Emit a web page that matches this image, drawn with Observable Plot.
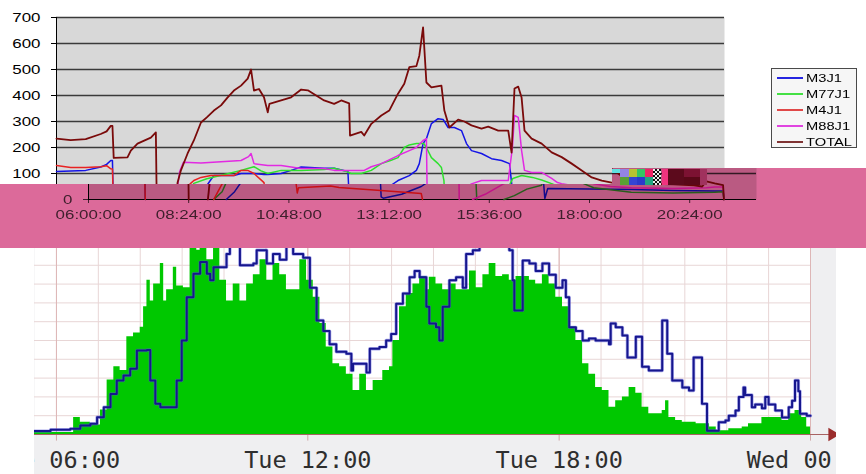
<!DOCTYPE html>
<html><head><meta charset="utf-8">
<script src="https://cdn.jsdelivr.net/npm/d3@7"></script>
<script src="https://cdn.jsdelivr.net/npm/@observablehq/plot@0.6"></script>
<style>
html,body{margin:0;padding:0;background:#fff;}
#stage{position:relative;width:866px;height:474px;overflow:hidden;font-family:"Liberation Sans",Arial,sans-serif;}
.abs{position:absolute;}
</style></head><body>
<div id="stage">
  <div id="bottom" class="abs" style="left:34px;top:200px;width:802px;height:274px;overflow:hidden;"></div>
  <div id="top" class="abs" style="left:0;top:0;width:730px;height:240px;"></div>
  <div id="legend" class="abs" style="left:771px;top:68px;width:84px;height:78px;border:1px solid #4a4a4a;background:#f6f6f6;"></div>
  <div id="band" class="abs" style="left:0;top:168px;width:866px;height:80px;background:#DC6A9A;overflow:hidden;isolation:isolate;clip-path:polygon(0 16px,612px 16px,612px 0,866px 0,866px 80px,0 80px);">
    <div id="bandCopy" class="abs" style="left:32px;top:-168px;width:730px;height:240px;mix-blend-mode:multiply;"></div>
    <div id="glitch"></div>
  </div>
</div>
<script>
// ---------- top chart (Excel style) ----------
const seriesNames = ["M3J1", "M77J1", "M4J1", "M88J1", "TOTAL"];
const seriesColors = ["#1414E6", "#2EE02E", "#E82222", "#E22AE2", "#7A0A0A"];
const legendColors = ["#2424E0", "#44E044", "#E04848", "#E044E0", "#803434"];
const xTicks = [6, 8.4, 10.8, 13.2, 15.6, 18, 20.4];
const xTickLabels = ["06:00:00", "08:24:00", "10:48:00", "13:12:00", "15:36:00", "18:00:00", "20:24:00"];
const yTicks = [0, 100, 200, 300, 400, 500, 600, 700];

// [hour of day, value]
const M3J1 = [[6.00,108],[6.34,110],[6.70,112],[7.06,125],[7.20,135],[7.30,150],[7.34,150],[7.36,0],[8.0,null],[9.30,0],[9.50,30],[9.70,77],[9.77,92],[10.25,92],[10.42,100],[10.73,100],[10.97,96],[11.06,96],[11.38,100],[11.62,112],[11.86,125],[12.41,120],[12.65,120],[12.98,108],[13.01,10],[13.06,5],[13.50,20],[13.97,50],[14.18,73],[14.45,92],[14.62,112],[14.69,138],[14.78,215],[14.86,234],[14.98,292],[15.14,311],[15.26,308],[15.38,277],[15.53,277],[15.70,265],[15.82,215],[15.94,188],[16.18,177],[16.42,157],[16.66,150],[16.85,138],[16.90,65],[16.93,4],[17.00,42],[18.00,40],[19.00,38],[20.00,35],[21.00,33],[21.20,33],[21.22,0]];
const M77J1 = [[9.00,0],[9.20,30],[9.29,62],[9.60,80],[10.00,95],[10.42,112],[10.58,119],[10.73,126],[10.90,110],[11.06,100],[11.38,112],[11.86,112],[12.41,115],[12.65,120],[12.90,110],[13.06,100],[13.30,100],[13.54,112],[13.78,138],[14.00,150],[14.18,161],[14.33,200],[14.45,210],[14.62,215],[14.80,215],[14.86,200],[14.98,161],[15.14,138],[15.22,123],[15.28,73],[15.30,0],[15.6,null],[15.95,0],[16.20,15],[16.50,40],[16.85,55],[16.93,81],[17.14,92],[17.40,85],[17.62,75],[17.86,61],[18.10,45],[19.00,28],[20.00,25],[21.00,28],[21.20,30],[21.22,0]];
const M4J1 = [[6.00,131],[6.34,123],[6.70,123],[7.06,126],[7.20,130],[7.30,118],[7.34,117],[7.36,0],[8.0,null],[9.00,0],[9.10,30],[9.20,60],[9.29,73],[9.46,85],[9.70,92],[10.25,92],[10.42,112],[10.58,112],[10.73,100],[10.97,65],[11.00,25],[11.03,45],[11.80,52],[12.00,46],[13.00,35],[13.97,23],[14.00,0]];
const M88J1 = [[8.86,0],[8.95,108],[9.04,143],[9.46,140],[9.94,145],[10.42,150],[10.60,165],[10.66,177],[10.73,138],[11.06,131],[11.38,131],[11.86,119],[12.41,119],[12.65,112],[13.06,112],[13.37,112],[13.54,126],[13.78,138],[14.18,169],[14.45,188],[14.62,200],[14.78,227],[14.86,234],[14.88,0],[15.0,null],[15.20,0],[15.50,20],[15.94,60],[16.18,73],[16.82,73],[16.92,200],[16.97,323],[17.06,316],[17.14,188],[17.21,112],[17.38,104],[17.62,104],[17.86,81],[18.00,65],[18.10,61],[18.50,50],[19.00,45],[20.00,42],[20.80,45],[21.00,48],[21.20,48],[21.22,0]];
const TOTAL = [[6.00,234],[6.34,228],[6.70,232],[7.06,252],[7.20,262],[7.30,283],[7.34,283],[7.37,160],[7.70,162],[7.78,188],[7.94,215],[8.26,238],[8.38,258],[8.40,0],[8.6,null],[8.86,0],[8.90,65],[8.98,112],[9.14,177],[9.29,227],[9.46,296],[9.60,316],[9.77,342],[9.94,362],[10.10,393],[10.25,419],[10.42,438],[10.58,465],[10.66,500],[10.73,419],[10.85,425],[10.97,393],[11.06,335],[11.10,368],[11.38,381],[11.62,393],[11.86,423],[12.02,420],[12.22,400],[12.41,381],[12.65,368],[12.82,381],[13.01,370],[13.03,246],[13.30,260],[13.37,246],[13.54,291],[13.78,323],[13.97,342],[14.18,407],[14.33,445],[14.45,509],[14.62,513],[14.69,553],[14.78,662],[14.86,450],[14.98,431],[15.22,438],[15.29,342],[15.41,277],[15.62,307],[15.77,300],[15.94,285],[16.18,273],[16.34,280],[16.58,265],[16.82,265],[16.90,180],[16.97,427],[17.06,434],[17.14,392],[17.21,265],[17.38,234],[17.62,215],[17.86,181],[18.10,163],[18.34,138],[18.58,112],[18.82,85],[19.06,73],[19.30,65],[19.54,60],[20.02,58],[20.50,54],[20.70,50],[20.80,70],[21.00,62],[21.20,55],[21.22,0]];
const seriesData = [M3J1, M77J1, M4J1, M88J1, TOTAL];

// ---------- bottom chart (RRD style) ----------
const bottomTickHours = [6, 12, 18, 24];
const bottomTickLabels = ["Tue 06:00", "Tue 12:00", "Tue 18:00", "Wed 00:00"];
const bottomHourGrid = [6,7,8,9,10,11,12,13,14,15,16,17,18,19,20,21,22,23,24];
const bottomValueGrid = [1,2,3,4,5,6,7,8,9,10,11];
const blueLine = [[5.46,0.18],[5.86,0.25],[6.33,0.3],[6.57,0.48],[6.81,0.57],[6.97,0.92],[7.13,1.45],[7.29,2.16],[7.44,2.87],[7.60,3.14],[7.76,3.5],[7.92,4.47],[8.16,4.5],[8.24,2.87],[8.36,1.63],[8.48,1.45],[8.75,1.45],[8.87,2.87],[8.99,5.0],[9.11,7.3],[9.27,8.55],[9.43,9.17],[9.59,8.55],[9.67,8.2],[9.75,8.9],[9.90,8.9],[10.06,9.6],[10.14,10.4],[10.38,9.0],[10.70,9.1],[10.78,9.8],[10.94,9.8],[11.02,9.1],[11.17,9.6],[11.33,9.3],[11.49,10.4],[11.65,9.6],[11.89,9.4],[12.05,7.8],[12.21,6.06],[12.37,5.5],[12.52,4.8],[12.68,4.4],[12.92,4.3],[13.04,3.4],[13.08,3.76],[13.32,3.76],[13.40,3.3],[13.48,4.56],[13.71,4.65],[13.87,5.0],[13.99,5.35],[14.11,6.95],[14.27,7.5],[14.43,8.37],[14.55,8.7],[14.67,8.37],[14.83,6.8],[14.90,5.9],[15.06,5.7],[15.14,5.0],[15.22,6.8],[15.38,8.2],[15.54,8.37],[15.70,7.8],[15.78,9.6],[15.94,9.8],[16.10,10.5],[16.49,10.5],[16.81,9.8],[16.89,8.2],[16.93,6.6],[17.05,6.6],[17.13,9.25],[17.29,9.1],[17.44,8.7],[17.60,9.1],[17.76,8.5],[17.92,7.8],[18.08,8.2],[18.16,7.3],[18.24,5.7],[18.40,5.5],[18.56,5.0],[18.71,5.1],[18.87,5.0],[19.19,4.8],[19.23,5.9],[19.35,5.7],[19.51,5.27],[19.63,4.1],[19.75,4.1],[19.83,5.2],[19.94,5.2],[19.98,3.6],[20.14,3.4],[20.38,3.4],[20.46,6.06],[20.54,6.06],[20.58,4.3],[20.70,2.87],[20.86,2.87],[20.94,2.5],[21.02,2.5],[21.10,2.34],[21.21,4.1],[21.33,4.1],[21.41,1.63],[21.49,1.63],[21.53,0.2],[21.77,0.2],[21.81,0.65],[21.97,0.75],[22.05,1.0],[22.21,1.27],[22.29,2.0],[22.40,2.5],[22.44,2.1],[22.60,1.45],[22.68,1.6],[22.84,1.4],[22.92,2.0],[23.00,1.6],[23.16,1.27],[23.32,0.9],[23.48,1.45],[23.56,1.8],[23.63,2.87],[23.71,2.3],[23.75,1.1],[23.91,1.0],[24.0,1.0]];
const greenArea = [[5.46,0.1],[6.25,0.1],[6.41,0.9],[6.57,0.65],[6.81,0.5],[7.05,1.3],[7.21,2.9],[7.37,3.6],[7.52,3.4],[7.68,5.2],[7.84,5.4],[8.00,5.7],[8.08,6.8],[8.16,8.2],[8.24,7.1],[8.32,8.0],[8.48,9.1],[8.56,7.1],[8.63,7.7],[8.79,8.9],[8.87,7.9],[9.03,7.8],[9.19,10.2],[9.35,9.8],[9.43,10.4],[9.59,9.3],[9.75,10.4],[9.90,8.2],[10.06,7.1],[10.22,8.0],[10.38,7.1],[10.54,8.0],[10.70,8.5],[10.86,9.3],[11.02,8.2],[11.17,9.1],[11.33,8.5],[11.49,7.7],[11.65,7.7],[11.81,9.3],[11.97,8.2],[12.13,7.3],[12.29,5.9],[12.44,4.65],[12.60,3.76],[12.76,3.6],[12.92,3.2],[13.08,2.34],[13.24,3.2],[13.40,2.34],[13.56,2.87],[13.79,3.4],[13.95,3.6],[14.03,5.0],[14.19,6.8],[14.35,7.5],[14.51,8.0],[14.67,8.4],[14.83,7.7],[14.90,8.37],[15.06,8.0],[15.22,7.7],[15.38,8.0],[15.54,7.7],[15.70,7.7],[15.86,8.7],[16.02,7.8],[16.18,8.5],[16.33,9.1],[16.49,8.4],[16.65,8.5],[16.81,8.2],[16.97,8.4],[17.13,8.4],[17.29,8.2],[17.44,8.0],[17.60,8.5],[17.76,8.0],[17.92,7.3],[18.08,6.8],[18.24,5.7],[18.40,5.0],[18.56,3.76],[18.71,3.2],[18.87,2.5],[19.03,2.34],[19.19,1.45],[19.35,1.8],[19.51,2.0],[19.67,2.5],[19.83,2.2],[19.98,1.45],[20.14,1.1],[20.30,1.1],[20.46,1.27],[20.54,1.8],[20.62,0.9],[20.78,0.74],[20.94,0.65],[21.27,0.57],[21.59,0.4],[21.75,0.2],[22.05,0.3],[22.37,0.4],[22.52,0.57],[22.84,0.9],[23.16,0.9],[23.32,0.74],[23.48,1.1],[23.63,1.27],[23.79,0.9],[23.91,0.4],[24.0,0]];

function stretchText(svg, k) {
  svg.querySelectorAll("text").forEach(t => {
    const L = t.getComputedTextLength();
    if (L > 0) { t.setAttribute("textLength", (L * k).toFixed(2)); t.setAttribute("lengthAdjust", "spacingAndGlyphs"); }
  });
}

// full = true: the copy seen through the band (with the x labels and the 0 label)
function topChart(full) {
  const lineMarks = seriesData.map((s, i) => Plot.line(s.map(([h, v]) => ({h, v})), {
    x: "h", y: "v", stroke: seriesColors[i], strokeWidth: i === 4 ? 1.8 : 1.5, strokeLinejoin: "round"
  }));
  const axes = full ? [
    Plot.axisY({ticks: [0], tickSize: 5, tickPadding: 11, fontSize: 13, label: null}),
    Plot.axisX({ticks: xTicks, tickSize: 4, tickPadding: 6, fontSize: 13, label: null,
      tickFormat: d => xTickLabels[xTicks.indexOf(d)]})
  ] : [
    Plot.axisY({ticks: yTicks.slice(1), tickSize: 5, tickPadding: 11, fontSize: 13, label: null}),
    Plot.axisX({ticks: xTicks, tickSize: 4, label: null, text: null})
  ];
  return Plot.plot({
    width: 730, height: 240, marginLeft: 56, marginRight: 6, marginTop: 17, marginBottom: 41,
    style: {background: "transparent", fontFamily: "'Liberation Sans', Arial, sans-serif", color: full ? "#4a4a4a" : "#000", overflow: "visible"},
    x: {domain: [6, 22]}, y: {domain: [0, 700]},
    marks: [
      Plot.frame({fill: "#D8D8D8", stroke: null}),
      Plot.gridY(yTicks.slice(1), {stroke: "#3a3a3a", strokeOpacity: 1, strokeWidth: 1.4}),
      ...axes,
      Plot.ruleX([6], {stroke: "#000"}),
      Plot.ruleY([0], {stroke: "#000"}),
      ...lineMarks
    ]
  });
}

const topSvg = topChart(false);
document.getElementById("top").append(topSvg);
stretchText(topSvg, 1.3);
const copySvg = topChart(true);
document.getElementById("bandCopy").append(copySvg);
stretchText(copySvg, 1.3);

// legend
const legend = document.getElementById("legend");
seriesNames.forEach((n, i) => {
  const row = document.createElement("div");
  row.style.cssText = `position:absolute;left:0;top:${1 + 16 * i}px;width:84px;height:16px;`;
  row.innerHTML = `<div style="position:absolute;left:5px;top:7px;width:26px;height:1.5px;background:${legendColors[i]}"></div>` +
    `<span style="position:absolute;left:34px;top:1px;font-size:11.3px;line-height:14px;color:#000;transform:scaleX(1.3);transform-origin:left;white-space:nowrap">${n}</span>`;
  legend.append(row);
});

// glitch blocks in the band (decoration)
const glitchBlocks = [
  [612,169,8,4,"#5fe0e0"],[620,169,9,8,"#9484e4"],[629,169,8,8,"#b8c232"],[620,177,9,8,"#5aa034"],[629,177,8,8,"#3444d4"],
  [637,169,8,8,"#34c464"],[637,177,8,8,"#2a3acb"],[645,169,8,8,"#ee2466"],[645,177,8,8,"#22a482"],
  [662,169,6,16,"#f0337f"],[668,169,16,16,"#5c0a1c"],[684,169,16,8,"#7c1232"],[684,177,16,8,"#5a0818"],[700,169,7,16,"#a0325e"]
];
const glitch = document.getElementById("glitch");
glitchBlocks.forEach(([x, y, w, h, c]) => {
  const d = document.createElement("div");
  d.style.cssText = `position:absolute;left:${x}px;top:${y - 168}px;width:${w}px;height:${h}px;background:${c};`;
  glitch.append(d);
});
const chk = document.createElement("div");
chk.style.cssText = "position:absolute;left:653px;top:1px;width:8px;height:16px;background:repeating-conic-gradient(#111 0 25%,#eee 0 50%) 0 0/4px 4px;";
glitch.append(chk);

// bottom chart
const bottomSvg = Plot.plot({
  width: 802, height: 274, marginLeft: 0, marginRight: 26, marginTop: 27, marginBottom: 40,
  style: {background: "#EFEFF1", fontFamily: "'DejaVu Sans Mono', monospace", color: "#2e2e2e"},
  x: {domain: [5.476, 24]}, y: {domain: [0, 11.01], axis: null},
  marks: [
    Plot.frame({fill: "#fff", stroke: null}),
    Plot.ruleX(bottomHourGrid, {stroke: "#E8D6D6", strokeWidth: 1}),
    Plot.ruleY(bottomValueGrid, {stroke: "#E8D6D6", strokeWidth: 1}),
    Plot.ruleX(bottomTickHours, {stroke: "#DDB6B6", strokeWidth: 1}),
    Plot.ruleX(bottomTickHours, {y1: 0, y2: -0.35, stroke: "#D0A8A8"}),
    Plot.areaY(greenArea.map(([h, v]) => ({h, v})), {x: "h", y: "v", curve: "step-after", fill: "#00C800"}),
    Plot.line(blueLine.map(([h, v]) => ({h, v})), {x: "h", y: "v", curve: "step-after", stroke: "#5858d8", strokeWidth: 3.4, strokeOpacity: 0.5}),
    Plot.line(blueLine.map(([h, v]) => ({h, v})), {x: "h", y: "v", curve: "step-after", stroke: "#16168e", strokeWidth: 2}),
    Plot.ruleY([0], {x1: 5.476, x2: 24.5, stroke: "#A86262", strokeWidth: 1.2}),
    Plot.dot([{h: 24.52, v: 0}], {x: "h", y: "v", symbol: "triangle", rotate: 90, r: 5, fill: "#9a2c2c", stroke: null}),
    Plot.axisX({ticks: bottomTickHours, tickSize: 0, tickPadding: 17, fontSize: 23.5, fill: "#2e2e2e", label: null,
      tickFormat: d => bottomTickLabels[bottomTickHours.indexOf(d)]})
  ]
});
document.getElementById("bottom").append(bottomSvg);
</script>
</body></html>
